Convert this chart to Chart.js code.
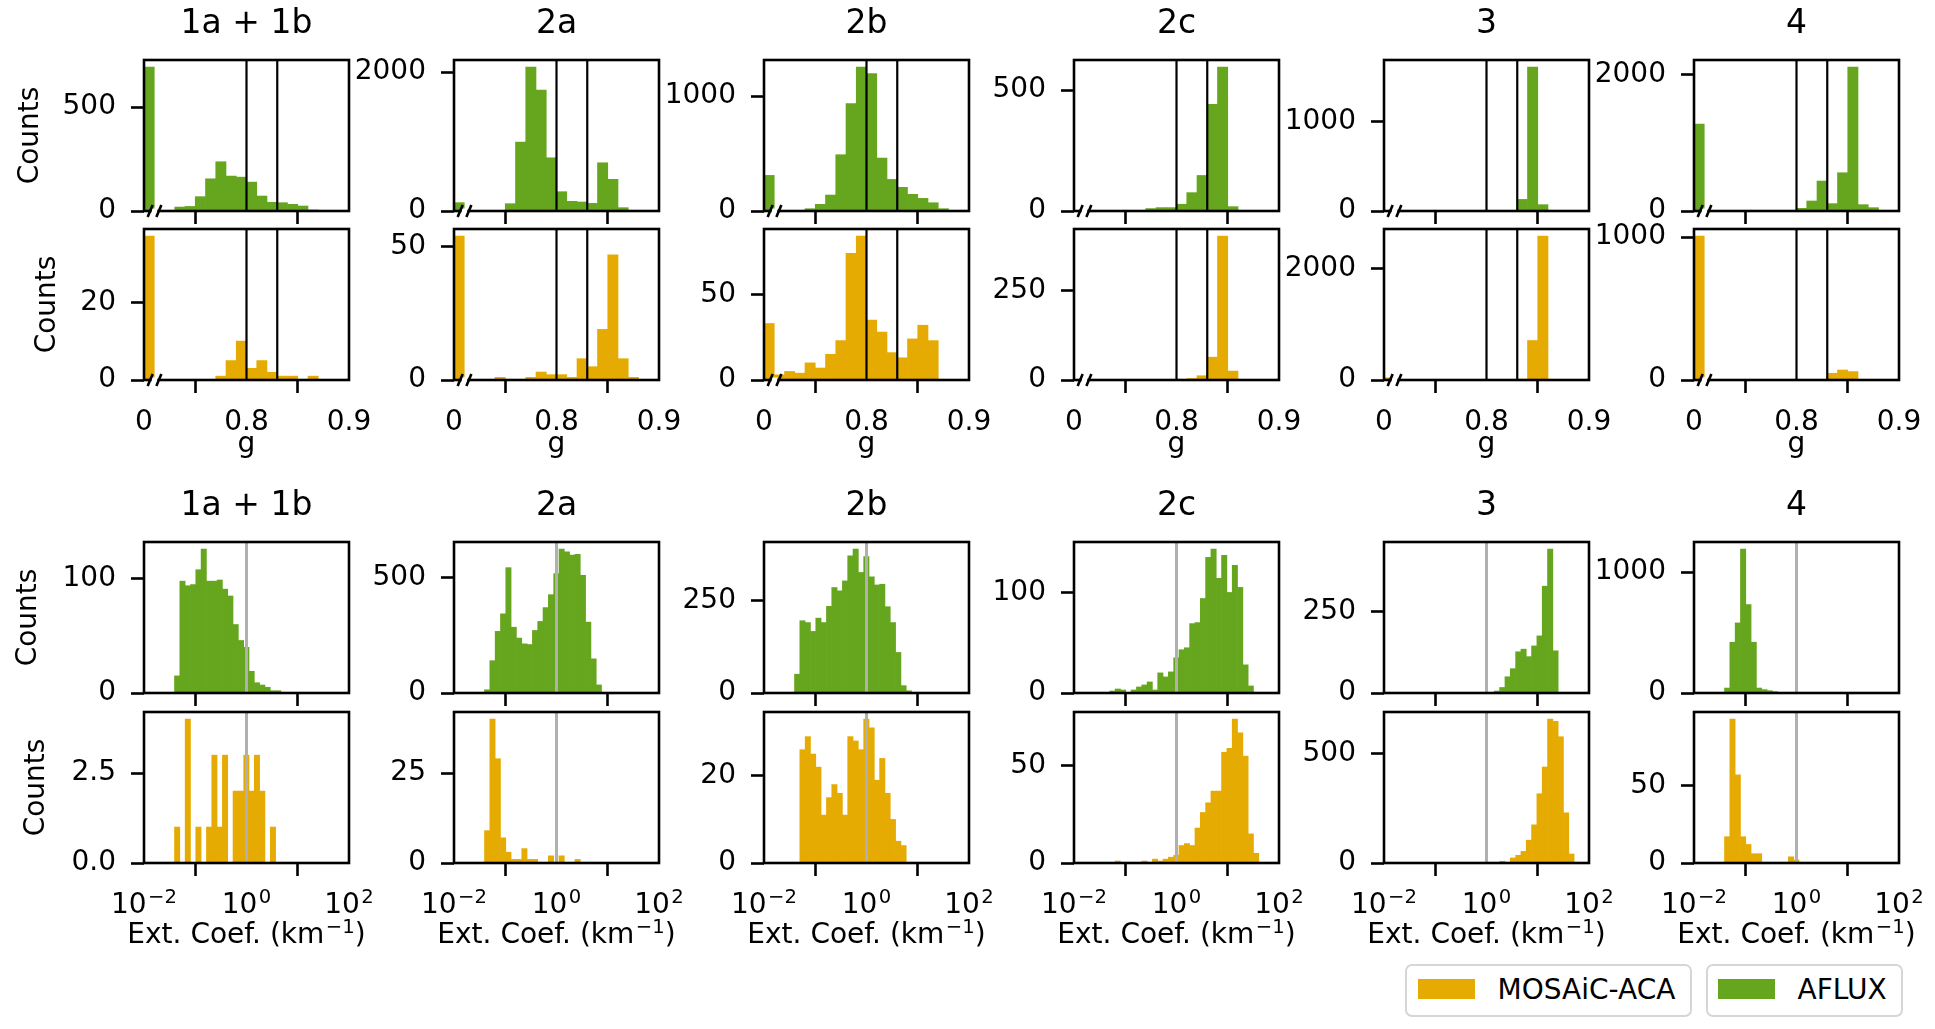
<!DOCTYPE html>
<html>
<head>
<meta charset="utf-8">
<script src="https://cdn.jsdelivr.net/npm/chart.js@4.4.1/dist/chart.umd.min.js"></script>
<style>
  body { margin: 0; background: #fff; width: 1935px; height: 1029px; position: relative; overflow: hidden; font-family: 'DejaVu Sans'; }
  canvas { position: absolute; }
  .leg { position: absolute; box-sizing: border-box; border: 2.5px solid #d6d6d6; border-radius: 7px; background: #fff;
         font: 28px 'DejaVu Sans'; color: #000; display: flex; align-items: center; padding-bottom: 3px; }
  .sw { display: inline-block; width: 57px; height: 20px; margin-right: 23px; }
</style>
</head>
<body>
<div class="leg" style="left:1405px;top:964px;width:287px;height:53px;padding-left:10.5px">
  <span class="sw" style="background:#e6ab02"></span><span>MOSAiC-ACA</span>
</div>
<div class="leg" style="left:1706px;top:964px;width:197px;height:53px;padding-left:9.5px">
  <span class="sw" style="background:#66a61e"></span><span>AFLUX</span>
</div>
<script>
// regimes (columns)
const regimes = ['1a + 1b', '2a', '2b', '2c', '3', '4'];

// asymmetry parameter g: bin edges (first bin holds g = 0, drawn left of the axis break)
const gEdges = [0.70, 0.71, 0.72, 0.73, 0.74, 0.75, 0.76, 0.77, 0.78, 0.79, 0.80,
                0.81, 0.82, 0.83, 0.84, 0.85, 0.86, 0.87, 0.88, 0.89, 0.90];
const gTicks = [0.7, 0.8, 0.9];
const gTickLabels = ['0', '0.8', '0.9'];
const gLines = [0.8, 0.83];

// extinction coefficient: bin edges in log10(km^-1)
const extEdges = [-1.405, -1.301, -1.197, -1.093, -0.990, -0.886, -0.782, -0.678, -0.574, -0.470, -0.367,
                  -0.263, -0.159, -0.055, 0.049, 0.152, 0.256, 0.360, 0.464, 0.568, 0.672,
                  0.775, 0.879, 0.983, 1.087, 1.191, 1.295, 1.398, 1.502, 1.606, 1.710];
const extTicks = [-2, 0, 2];
const extTickExp = ['−2', '0', '2'];   // labels 10^-2, 10^0, 10^2
const extLines = [0];
const extTitle = [['Ext. Coef. (km', false], ['−1', true], [')', false]];

// AFLUX, g
const gAflux1ab = [692, 0, 0, 19, 22, 69, 155, 237, 168, 163, 139, 72, 42, 40, 32, 24, 5, 0, 0, 0];
const gAflux2a  = [120, 0, 0, 0, 0, 105, 993, 2072, 1741, 767, 278, 139, 130, 110, 695, 456, 48, 0, 0, 0];
const gAflux2b  = [310, 0, 0, 0, 20, 58, 139, 490, 936, 1252, 1197, 461, 275, 206, 145, 110, 72, 20, 3, 0];
const gAflux2c  = [0, 0, 0, 0, 0, 0, 0, 10, 14, 14, 28, 76, 147, 441, 595, 18, 0, 0, 0, 0];
const gAflux3   = [0, 0, 0, 0, 0, 0, 0, 0, 0, 0, 0, 0, 0, 130, 1612, 71, 0, 0, 0, 0];
const gAflux4   = [1276, 0, 0, 0, 0, 0, 0, 0, 0, 0, 39, 147, 440, 108, 562, 2112, 93, 49, 0, 0];

// MOSAiC-ACA, g
const gMosaic1ab = [37, 0, 0, 0, 0, 0, 0, 1, 5, 10, 3, 5, 2, 1, 1, 0, 1, 0, 0, 0];
const gMosaic2a  = [54, 0, 0, 0, 1, 0, 0, 1, 3, 2, 2, 1, 8, 5, 19, 47, 8, 1, 0, 0];
const gMosaic2b  = [33, 3, 5, 4, 10, 7, 15, 23, 74, 84, 35, 28, 16, 13, 24, 32, 23, 0, 0, 0];
const gMosaic2c  = [0, 0, 0, 0, 0, 0, 0, 0, 0, 0, 0, 4, 12, 64, 403, 25, 0, 0, 0, 0];
const gMosaic3   = [40, 0, 0, 0, 0, 0, 0, 0, 0, 0, 0, 0, 0, 15, 711, 2590, 0, 0, 0, 0];
const gMosaic4   = [1007, 0, 0, 0, 0, 0, 0, 0, 0, 0, 0, 0, 0, 47, 70, 59, 0, 0, 0, 0];

// AFLUX, extinction coefficient
const eAflux1ab = [15, 98, 94, 95, 108, 126, 98, 98, 99, 91, 85, 60, 46, 40, 19, 9, 7, 5, 2, 2, 0, 0, 0, 0, 0, 0, 0, 0, 0, 0];
const eAflux2a  = [14, 140, 267, 343, 543, 285, 238, 213, 210, 271, 310, 370, 426, 517, 623, 612, 597, 601, 510, 307, 148, 35, 2, 0, 0, 0, 0, 0, 0, 0];
const eAflux2b  = [51, 196, 191, 167, 203, 191, 235, 286, 277, 304, 372, 390, 327, 370, 315, 293, 295, 234, 191, 110, 20, 6, 0, 0, 0, 0, 0, 0, 0, 0];
const eAflux2c  = [0, 2, 4, 3, 0, 3, 6, 8, 11, 3, 20, 16, 21, 35, 43, 45, 69, 70, 94, 135, 143, 114, 137, 100, 127, 105, 28, 7, 0, 0];
const eAflux3   = [0, 0, 0, 0, 0, 0, 1, 0, 0, 0, 0, 1, 0, 1, 2, 6, 17, 50, 75, 127, 135, 112, 145, 176, 329, 443, 130, 0, 0, 0];
const eAflux4   = [41, 420, 580, 1190, 732, 420, 41, 28, 19, 11, 0, 0, 0, 0, 0, 0, 0, 0, 0, 0, 0, 0, 0, 0, 0, 0, 0, 0, 0, 0];

// MOSAiC-ACA, extinction coefficient
const eMosaic1ab = [1, 0, 4, 0, 1, 0, 1, 3, 1, 3, 0, 2, 2, 3, 2, 3, 2, 0, 1, 0, 0, 0, 0, 0, 0, 0, 0, 0, 0, 0];
const eMosaic2a  = [9, 40, 29, 7, 3, 1, 1, 4, 1, 1, 0, 0, 2, 0, 2, 0, 0, 1, 0, 0, 0, 0, 0, 0, 0, 0, 0, 0, 0, 0];
const eMosaic2b  = [0, 26, 29, 25, 22, 11, 15, 18, 16, 11, 29, 28, 26, 33, 31, 19, 24, 16, 10, 5, 4, 0, 0, 0, 0, 0, 0, 0, 0, 0];
const eMosaic2c  = [0, 0, 1, 0, 0, 0, 0, 1, 0, 2, 1, 2, 3, 4, 9, 10, 9, 18, 26, 31, 37, 37, 57, 59, 74, 67, 55, 15, 5, 0];
const eMosaic3   = [0, 0, 0, 0, 0, 0, 0, 0, 0, 0, 0, 0, 0, 0, 0, 0, 8, 3, 23, 35, 53, 104, 174, 316, 438, 656, 646, 576, 229, 41];
const eMosaic4   = [17, 93, 57, 17, 12, 6, 6, 0, 0, 0, 0, 0, 4, 2, 0, 0, 0, 0, 0, 0, 0, 0, 0, 0, 0, 0, 0, 0, 0, 0];

// y tick values per row
const yTicksGAflux  = [[0, 500], [0, 2000], [0, 1000], [0, 500], [0, 1000], [0, 2000]];
const yTicksGMosaic = [[0, 20], [0, 50], [0, 50], [0, 250], [0, 2000], [0, 1000]];
const yTicksEAflux  = [[0, 100], [0, 500], [0, 250], [0, 100], [0, 250], [0, 1000]];
const yTicksEMosaic = [[0, 2.5], [0, 25], [0, 20], [0, 50], [0, 500], [0, 50]];

const GREEN = '#66a61e';
const ORANGE = '#e6ab02';

const rows = [
  { kind: 'g',   top: true,  color: GREEN,  data: [gAflux1ab, gAflux2a, gAflux2b, gAflux2c, gAflux3, gAflux4], yTicks: yTicksGAflux },
  { kind: 'g',   top: false, color: ORANGE, data: [gMosaic1ab, gMosaic2a, gMosaic2b, gMosaic2c, gMosaic3, gMosaic4], yTicks: yTicksGMosaic },
  { kind: 'ext', top: true,  color: GREEN,  data: [eAflux1ab, eAflux2a, eAflux2b, eAflux2c, eAflux3, eAflux4], yTicks: yTicksEAflux },
  { kind: 'ext', top: false, color: ORANGE, data: [eMosaic1ab, eMosaic2a, eMosaic2b, eMosaic2c, eMosaic3, eMosaic4], yTicks: yTicksEMosaic }
];

// layout of the figure
const COL_LEFT = [144, 454, 764, 1074, 1384, 1694];
const ROW_TOP = [60, 229, 542, 712];
const PANEL_W = 205, PANEL_H = 151;
const YLABEL_X = [30.5, 48, 29, 37];
const TITLE_BLOCK = 57, PAD_TOP = 36, PAD_RIGHT = 45, PAD_BOTTOM_TOP = 24;
const FS = 28;
const FONT = "'DejaVu Sans'";

Chart.defaults.font.family = 'DejaVu Sans';
Chart.defaults.font.size = FS;
Chart.defaults.color = '#000';

// text with mathtext-like superscripts, centred at cx on the given baseline
function drawSupText(ctx, parts, cx, baseline) {
  const widths = parts.map(([t, sup]) => {
    ctx.font = (sup ? FS * 0.7 : FS) + 'px ' + FONT;
    return ctx.measureText(t).width + (sup ? 1.5 : 0);
  });
  let x = cx - widths.reduce((a, b) => a + b, 0) / 2;
  ctx.textAlign = 'left';
  ctx.textBaseline = 'alphabetic';
  ctx.fillStyle = '#000';
  parts.forEach(([t, sup], i) => {
    ctx.font = (sup ? FS * 0.7 : FS) + 'px ' + FONT;
    ctx.fillText(t, x + (sup ? 1.5 : 0), sup ? baseline - 10 : baseline);
    x += widths[i];
  });
}

// reference lines, frame, axis-break marks and log-axis labels
const panelDeco = {
  id: 'panelDeco',
  afterDatasetsDraw(chart, args, o) {
    const { ctx, chartArea: a, scales: { x } } = chart;
    ctx.save();
    o.lines.forEach(v => {
      const px = x.getPixelForValue(v);
      ctx.beginPath();
      ctx.moveTo(px, a.top);
      ctx.lineTo(px, a.bottom);
      ctx.strokeStyle = o.color;
      ctx.lineWidth = o.width;
      ctx.stroke();
    });
    ctx.strokeStyle = '#000';
    ctx.lineWidth = 2.6;
    ctx.strokeRect(a.left, a.top, a.right - a.left, a.bottom - a.top);
    if (o.breakAt) {
      const b1 = x.getPixelForValue(o.breakAt[0]);
      const b2 = x.getPixelForValue(o.breakAt[1]);
      ctx.fillStyle = '#fff';
      ctx.fillRect(b1 + 1.5, a.bottom - 2.5, b2 - b1 - 3, 5);
      [b1, b2].forEach(p => {
        ctx.beginPath();
        ctx.moveTo(p - 2.5, a.bottom + 6);
        ctx.lineTo(p + 2.5, a.bottom - 6);
        ctx.stroke();
      });
    }
    if (o.logLabels) {
      extTicks.forEach((v, i) => {
        drawSupText(ctx, [['10', false], [extTickExp[i], true]], x.getPixelForValue(v), a.bottom + 50);
      });
      drawSupText(ctx, extTitle, (a.left + a.right) / 2, a.bottom + 80);
    }
    ctx.restore();
  }
};

function makePanel(r, c) {
  const row = rows[r];
  const counts = row.data[c];
  const isG = row.kind === 'g';
  const edges = isG ? gEdges : extEdges;
  const centers = counts.map((_, i) => (edges[i] + edges[i + 1]) / 2);
  const xTicks = isG ? gTicks : extTicks;
  const xH = row.top ? 16 : (isG ? 82 : 87);
  const padBottom = row.top ? PAD_BOTTOM_TOP : 0;

  let canvasLeft, yW;
  if (c === 0) {
    canvasLeft = Math.round(YLABEL_X[r] - FS * 0.6);
    yW = COL_LEFT[0] - canvasLeft;
  } else {
    yW = 110;
    canvasLeft = COL_LEFT[c] - yW;
  }
  const headH = row.top ? TITLE_BLOCK : PAD_TOP;
  const cv = document.createElement('canvas');
  cv.width = yW + PANEL_W + PAD_RIGHT;
  cv.height = headH + PANEL_H + xH + padBottom;
  cv.style.left = canvasLeft + 'px';
  cv.style.top = (ROW_TOP[r] - headH) + 'px';
  document.body.appendChild(cv);

  const yT = row.yTicks[c];
  const ymax = Math.max(...counts) * 1.05;

  new Chart(cv, {
    type: 'bar',
    data: {
      datasets: [{
        data: centers.map((x, i) => ({ x, y: counts[i] })),
        backgroundColor: row.color,
        borderWidth: 0,
        barPercentage: 1,
        categoryPercentage: 1
      }]
    },
    options: {
      responsive: false,
      animation: false,
      events: [],
      layout: { padding: { left: 0, right: PAD_RIGHT, top: row.top ? 0 : PAD_TOP, bottom: padBottom } },
      plugins: {
        legend: { display: false },
        tooltip: { enabled: false },
        title: {
          display: row.top,
          fullSize: false,
          text: regimes[c],
          font: { size: 33, weight: 'normal' },
          color: '#000',
          padding: { top: 2, bottom: 15.4 }
        },
        panelDeco: {
          lines: isG ? gLines : extLines,
          color: isG ? '#000' : '#b0b0b0',
          width: isG ? 2.2 : 3,
          breakAt: isG ? [0.706, 0.7145] : null,
          logLabels: !isG && !row.top
        }
      },
      scales: {
        x: {
          type: 'linear',
          min: xTicks[0],
          max: xTicks[2],
          offset: false,
          border: { display: false },
          grid: { drawOnChartArea: false, drawTicks: true, tickLength: 13, tickWidth: 2.6, tickColor: '#000' },
          ticks: {
            padding: 13,
            autoSkip: false,
            maxRotation: 0,
            callback: (v, i) => (row.top || !isG) ? '' : gTickLabels[i]
          },
          afterBuildTicks: s => { s.ticks = xTicks.map(v => ({ value: v })); },
          afterFit: s => { s.height = xH; },
          title: {
            display: isG && !row.top,
            text: 'g',
            padding: { top: 0, bottom: 0 }
          }
        },
        y: {
          type: 'linear',
          min: 0,
          max: ymax,
          border: { display: false },
          grid: { drawOnChartArea: false, drawTicks: true, tickLength: 13, tickWidth: 2.6, tickColor: '#000' },
          ticks: {
            padding: 15,
            autoSkip: false,
            callback: v => (r === 3 && c === 0) ? v.toFixed(1) : String(v)
          },
          afterBuildTicks: s => { s.ticks = yT.map(v => ({ value: v })); },
          afterFit: s => { s.width = yW; },
          title: {
            display: c === 0,
            text: 'Counts',
            padding: { top: 0, bottom: 0 }
          }
        }
      }
    },
    plugins: [panelDeco]
  });
}

for (let r = 0; r < rows.length; r++) {
  for (let c = 0; c < regimes.length; c++) {
    makePanel(r, c);
  }
}
</script>
</body>
</html>
